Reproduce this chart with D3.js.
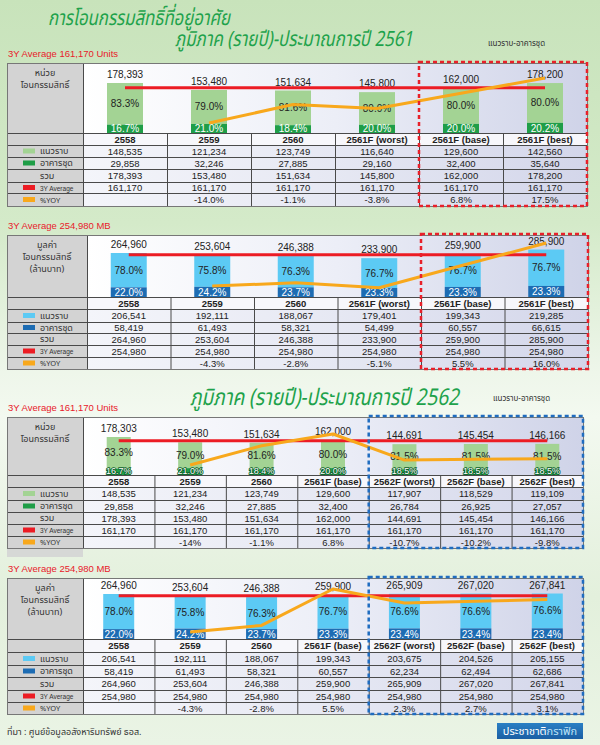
<!DOCTYPE html>
<html lang="th">
<head>
<meta charset="UTF-8">
<title>การโอนกรรมสิทธิ์ที่อยู่อาศัย ภูมิภาค</title>
<script src="https://cdn.jsdelivr.net/npm/d3@7"></script>
<style>
*{margin:0; padding:0;}
body{width:600px; height:745px; overflow:hidden;}
text{font-family:"Liberation Sans", Arial, "Noto Sans Thai", "Loma", "Garuda", sans-serif;}
.thai{font-family:"Noto Sans Thai", "Loma", "Garuda", "Tlwg Typo", "DejaVu Sans", sans-serif;}
</style>
</head>
<body>
<script>
// ---- data: 2561 units ----
var catsA = ["2558", "2559", "2560", "2561F (worst)", "2561F (base)", "2561F (best)"];
var flatA = [148535, 121234, 123749, 116640, 129600, 142560];
var condoA = [29858, 32246, 27885, 29160, 32400, 35640];
var totalA = [178393, 153480, 151634, 145800, 162000, 178200];
var barTotalA = [178393, 153480, 151634, 145800, 162000, 178200];
var avgA = 161170;
var yoyA = [null, -14.0, -1.1, -3.8, 6.8, 17.5];
var yoyLabelA = ["", "-14.0%", "-1.1%", "-3.8%", "6.8%", "17.5%"];
var flatPctA = [83.3, 79.0, 81.6, 80.0, 80.0, 80.0];
var condoPctA = [16.7, 21.0, 18.4, 20.0, 20.0, 20.2];

// ---- data: 2561 value (MB) ----
var catsB = catsA;
var flatB = [206541, 192111, 188067, 179401, 199343, 219285];
var condoB = [58419, 61493, 58321, 54499, 60557, 66615];
var totalB = [264960, 253604, 246388, 233900, 259900, 285900];
var barTotalB = totalB;
var avgB = 254980;
var yoyB = [null, -4.3, -2.8, -5.1, 5.5, 16.0];
var yoyLabelB = ["", "-4.3%", "-2.8%", "-5.1%", "5.5%", "16.0%"];
var flatPctB = [78.0, 75.8, 76.3, 76.7, 76.7, 76.7];
var condoPctB = [22.0, 24.2, 23.7, 23.3, 23.3, 23.3];

// ---- data: 2562 units ----
var catsC = ["2558", "2559", "2560", "2561F (base)", "2562F (worst)", "2562F (base)", "2562F (best)"];
var flatC = [148535, 121234, 123749, 129600, 117907, 118529, 119109];
var condoC = [29858, 32246, 27885, 32400, 26784, 26925, 27057];
var totalC = [178393, 153480, 151634, 162000, 144691, 145454, 146166];
var barTotalC = [178303, 153480, 151634, 162000, 144691, 145454, 146166];
var avgC = 161170;
var yoyC = [null, -14, -1.1, 6.8, -10.7, -10.2, -9.8];
var yoyLabelC = ["", "-14%", "-1.1%", "6.8%", "-10.7%", "-10.2%", "-9.8%"];
var flatPctC = [83.3, 79.0, 81.6, 80.0, 81.5, 81.5, 81.5];
var condoPctC = [16.7, 21.0, 18.4, 20.0, 18.5, 18.5, 18.5];

// ---- data: 2562 value (MB) ----
var catsD = catsC;
var flatD = [206541, 192111, 188067, 199343, 203675, 204526, 205155];
var condoD = [58419, 61493, 58321, 60557, 62234, 62494, 62686];
var totalD = [264960, 253604, 246388, 259900, 265909, 267020, 267841];
var barTotalD = totalD;
var avgD = 254980;
var yoyD = [null, -4.3, -2.8, 5.5, 2.3, 2.7, 3.1];
var yoyLabelD = ["", "-4.3%", "-2.8%", "5.5%", "2.3%", "2.7%", "3.1%"];
var flatPctD = [78.0, 75.8, 76.3, 76.7, 76.6, 76.6, 76.6];
var condoPctD = [22.0, 24.2, 23.7, 23.3, 23.4, 23.4, 23.4];

var W = 600, H = 745;
var fmt = d3.format(",");
var pct = d3.format(".1f");

var svg = d3.select("body").append("svg")
	.attr("width", W)
	.attr("height", H);

var defs = svg.append("defs");
function grad(id, stops, vertical){
	var g = defs.append("linearGradient").attr("id", id)
		.attr("x1", 0).attr("y1", 0)
		.attr("x2", vertical ? 0 : 1).attr("y2", vertical ? 1 : 0);
	stops.forEach(function(s){
		g.append("stop").attr("offset", s[0]).attr("stop-color", s[1]);
	});
}
grad("bg", [[0, "#c8e3bb"], [0.3, "#d4eac9"], [0.5, "#eef6ea"], [0.56, "#f3f9f0"], [0.8, "#e3f0dc"], [1, "#eaf4e5"]], true);
grad("chartBg", [[0, "#ffffff"], [0.5, "#eceef7"], [1, "#cfd3e8"]], false);
grad("cellBg", [[0, "#f4f5fa"], [0.5, "#e6e8f3"], [1, "#d3d6ea"]], false);
grad("logo", [[0, "#2a7fc4"], [1, "#1b5fa4"]], true);

svg.append("rect").attr("width", W).attr("height", H).attr("fill", "url(#bg)");

// ---- titles ----
function title(t, x, y, size, len){
	svg.append("text").attr("class", "thai")
		.attr("x", x).attr("y", y)
		.attr("font-size", size).attr("font-style", "italic")
		.attr("fill", "#1ea24b")
		.attr("textLength", len).attr("lengthAdjust", "spacingAndGlyphs")
		.text(t);
}
title("การโอนกรรมสิทธิ์ที่อยู่อาศัย", 48, 25, 21, 182);
title("ภูมิภาค (รายปี)-ประมาณการปี 2561", 175, 46, 21, 238);
title("ภูมิภาค (รายปี)-ประมาณการปี 2562", 190, 405, 23, 269);
svg.append("text").attr("class", "thai")
	.attr("x", 488).attr("y", 46)
	.attr("font-size", 8).attr("fill", "#333")
	.text("แนวราบ-อาคารชุด");
svg.append("text").attr("class", "thai")
	.attr("x", 493).attr("y", 401)
	.attr("font-size", 8).attr("fill", "#333")
	.text("แนวราบ-อาคารชุด");

function panel(p){
	var g = svg.append("g");
	var n = p.cats.length;
	var x = d3.scaleBand().domain(p.cats).range([p.x1, p.right]);
	var bwCol = x.bandwidth();
	var cx = function(i){ return x(p.cats[i]) + bwCol / 2; };
	var h = d3.scaleLinear().domain([0, p.vmax]).range([p.bottom, p.bottom - p.hmax]);
	var yy = d3.scaleLinear().domain(p.yoyDom).range(p.yoyRange);
	var last = p.rows[p.rows.length - 1];

	// caption
	g.append("text").attr("x", 8).attr("y", p.top - 6)
		.attr("font-size", 9.5).attr("fill", "#e8202a")
		.text(p.caption);

	// left gray column
	g.append("rect").attr("x", p.x0).attr("y", p.top)
		.attr("width", p.x1 - p.x0).attr("height", last - p.top)
		.attr("fill", "#d3d3d3");
	if(p.ghost){
		g.append("rect").attr("x", p.x0).attr("y", last)
			.attr("width", p.x1 - p.x0).attr("height", 9)
			.attr("fill", "#d6d8d6");
	}
	// chart area
	g.append("rect").attr("x", p.x1).attr("y", p.top)
		.attr("width", p.right - p.x1).attr("height", p.bottom - p.top)
		.attr("fill", "url(#chartBg)");
	// header row (years)
	g.append("rect").attr("x", p.x1).attr("y", p.bottom)
		.attr("width", p.right - p.x1).attr("height", p.rows[0] - p.bottom)
		.attr("fill", "#f7f7fb");
	// data rows
	for(var r = 0; r < p.rows.length - 1; r++){
		g.append("rect").attr("x", p.x1).attr("y", p.rows[r])
			.attr("width", p.right - p.x1).attr("height", p.rows[r + 1] - p.rows[r])
			.attr("fill", "url(#cellBg)");
	}

	// row header text in left column
	var hl = g.append("text").attr("class", "thai")
		.attr("text-anchor", "middle").attr("font-size", 9).attr("fill", "#333");
	p.head.forEach(function(t, i){
		hl.append("tspan").attr("x", (p.x0 + p.x1) / 2).attr("y", p.top + 13 + i * 12).text(t);
	});

	var rowNames = ["แนวราบ", "อาคารชุด", "รวม", "3Y Average", "%YOY"];
	var rowSw = [p.light, p.dark, null, "#ec1c24", "#f8a81c"];
	rowNames.forEach(function(name, i){
		var y0 = p.rows[i], y1 = p.rows[i + 1], ym = (y0 + y1) / 2;
		if(rowSw[i]){
			g.append("rect").attr("x", p.x0 + 16).attr("y", ym - 2.5)
				.attr("width", 12).attr("height", 5).attr("fill", rowSw[i]);
		}
		g.append("text").attr("class", i == 3 ? "" : "thai")
			.attr("x", p.x0 + 33).attr("y", ym + 3)
			.attr("font-size", i == 3 ? 6.5 : (i == 4 ? 7.5 : 9))
			.attr("fill", "#333")
			.text(name);
	});

	// table values
	function lab(a){ return a.map(fmt); }
	var cols = [lab(p.flat), lab(p.condo), lab(p.total),
		p.cats.map(function(){ return fmt(p.avg); }), p.yoyLabel];
	p.cats.forEach(function(c, i){
		g.append("text").attr("x", cx(i)).attr("y", (p.bottom + p.rows[0]) / 2 + 3.5)
			.attr("text-anchor", "middle").attr("font-size", 9.5)
			.attr("font-weight", "bold").attr("fill", "#222")
			.text(c);
		cols.forEach(function(col, r){
			g.append("text").attr("x", cx(i)).attr("y", (p.rows[r] + p.rows[r + 1]) / 2 + 3.5)
				.attr("text-anchor", "middle").attr("font-size", 9.5)
				.attr("fill", "#222")
				.text(col[i]);
		});
	});

	// grid lines
	var lines = g.append("g").attr("stroke", "#4a4a4a").attr("stroke-width", 1).attr("fill", "none");
	[p.bottom].concat(p.rows).forEach(function(y){
		lines.append("line").attr("x1", p.x0).attr("x2", p.right)
			.attr("y1", y + 0.5).attr("y2", y + 0.5);
	});
	p.cats.forEach(function(c, i){
		if(i == 0) return;
		lines.append("line").attr("x1", x(c) + 0.5).attr("x2", x(c) + 0.5)
			.attr("y1", p.bottom).attr("y2", last);
	});
	lines.append("line").attr("x1", p.x1 + 0.5).attr("x2", p.x1 + 0.5)
		.attr("y1", p.top).attr("y2", last);
	lines.append("rect").attr("x", p.x0 + 0.5).attr("y", p.top + 0.5)
		.attr("width", p.right - p.x0).attr("height", last - p.top)
		.attr("stroke", "#777");

	// bars
	var bw = p.barW;
	p.cats.forEach(function(c, i){
		var tot = p.barTotal[i];
		var ytop = h(tot);
		var ymid = h(tot * p.condoPct[i] / 100);
		var bx = cx(i) - bw / 2;
		g.append("rect").attr("x", bx).attr("y", ytop)
			.attr("width", bw).attr("height", ymid - ytop).attr("fill", p.light);
		g.append("rect").attr("x", bx).attr("y", ymid)
			.attr("width", bw).attr("height", p.bottom - ymid).attr("fill", p.dark);
		g.append("text").attr("x", cx(i)).attr("y", ytop - 5)
			.attr("text-anchor", "middle").attr("font-size", 10).attr("fill", "#222")
			.text(fmt(tot));
		g.append("text").attr("x", cx(i)).attr("y", (ytop + ymid) / 2 + 3.5)
			.attr("text-anchor", "middle").attr("font-size", 10).attr("fill", "#222")
			.text(pct(p.flatPct[i]) + "%");
		g.append("text").attr("x", cx(i))
			.attr("y", Math.min((ymid + p.bottom) / 2 + 4, p.bottom - 1))
			.attr("text-anchor", "middle").attr("font-size", p.outline ? 9 : 10).attr("fill", "#fff")
			.attr("stroke", p.outline ? "#0b5e2a" : "none").attr("stroke-width", p.outline ? 1.6 : 0)
			.attr("paint-order", "stroke")
			.text(pct(p.condoPct[i]) + "%");
	});

	// 3Y average line
	g.append("line").attr("x1", cx(0)).attr("x2", cx(n - 1))
		.attr("y1", h(p.avg)).attr("y2", h(p.avg))
		.attr("stroke", "#ec1c24").attr("stroke-width", 3);

	// %YOY line
	var pts = [];
	p.yoy.forEach(function(v, i){ if(v != null) pts.push([cx(i), yy(v)]); });
	g.append("path").attr("d", d3.line()(pts))
		.attr("fill", "none").attr("stroke", "#f8a81c").attr("stroke-width", 3)
		.attr("stroke-linejoin", "round");

	// forecast highlight box
	var hx = x(p.cats[p.hi]);
	g.append("rect").attr("x", hx).attr("y", p.top - 1)
		.attr("width", p.right - hx).attr("height", last - p.top + 1)
		.attr("fill", "none").attr("stroke", p.boxColor).attr("stroke-width", 2.5)
		.attr("stroke-dasharray", "4,3");
}

panel({cats: catsA, flat: flatA, condo: condoA, total: totalA, barTotal: barTotalA, avg: avgA,
	yoy: yoyA, yoyLabel: yoyLabelA, flatPct: flatPctA, condoPct: condoPctA,
	caption: "3Y Average 161,170 Units", head: ["หน่วย", "โอนกรรมสิทธิ์"],
	x0: 7, x1: 83, right: 587, top: 63, bottom: 133, rows: [145, 157, 169, 182, 193, 206],
	barW: 36, vmax: 178393, hmax: 50, yoyDom: [-14, 17.5], yoyRange: [123, 78],
	light: "#a3d394", dark: "#1f9e48", hi: 4, boxColor: "#e8202a"});

panel({cats: catsB, flat: flatB, condo: condoB, total: totalB, barTotal: barTotalB, avg: avgB,
	yoy: yoyB, yoyLabel: yoyLabelB, flatPct: flatPctB, condoPct: condoPctB,
	caption: "3Y Average 254,980 MB", head: ["มูลค่า", "โอนกรรมสิทธิ์", "(ล้านบาท)"],
	x0: 7, x1: 87, right: 588, top: 235, bottom: 297, rows: [309, 322, 333, 345, 357, 369],
	barW: 36, vmax: 264960, hmax: 44, yoyDom: [-4.3, 16], yoyRange: [286, 243],
	light: "#5ccaf4", dark: "#1d6cb3", hi: 4, boxColor: "#e8202a"});

panel({cats: catsC, flat: flatC, condo: condoC, total: totalC, barTotal: barTotalC, avg: avgC,
	yoy: yoyC, yoyLabel: yoyLabelC, flatPct: flatPctC, condoPct: condoPctC,
	caption: "3Y Average 161,170 Units", head: ["หน่วย", "โอนกรรมสิทธิ์"], ghost: true, outline: true,
	x0: 7, x1: 83, right: 583, top: 417, bottom: 475, rows: [487, 500, 512, 524, 536, 548],
	barW: 24, vmax: 178303, hmax: 38, yoyDom: [-14, 6.8], yoyRange: [465, 434],
	light: "#a3d394", dark: "#1f9e48", hi: 4, boxColor: "#1f6cc0"});

panel({cats: catsD, flat: flatD, condo: condoD, total: totalD, barTotal: barTotalD, avg: avgD,
	yoy: yoyD, yoyLabel: yoyLabelD, flatPct: flatPctD, condoPct: condoPctD,
	caption: "3Y Average 254,980 MB", head: ["มูลค่า", "โอนกรรมสิทธิ์", "(ล้านบาท)"],
	x0: 7, x1: 83, right: 583, top: 578, bottom: 639, rows: [652, 665, 677, 690, 702, 714],
	barW: 31, vmax: 264960, hmax: 45, yoyDom: [-4.3, 5.5], yoyRange: [632, 589],
	light: "#5ccaf4", dark: "#1d6cb3", hi: 4, boxColor: "#1f6cc0"});

// footer
svg.append("text").attr("class", "thai")
	.attr("x", 7).attr("y", 735).attr("font-size", 9).attr("fill", "#333")
	.text("ที่มา : ศูนย์ข้อมูลอสังหาริมทรัพย์ ธอส.");
svg.append("rect").attr("x", 497).attr("y", 723).attr("width", 86).attr("height", 16)
	.attr("fill", "url(#logo)");
var logo = svg.append("text").attr("class", "thai")
	.attr("x", 540).attr("y", 735).attr("text-anchor", "middle").attr("font-size", 11);
logo.append("tspan").attr("fill", "#fff").text("ประชาชาติ");
logo.append("tspan").attr("fill", "#bfe3f7").text("กราฟิก");
</script>
</body>
</html>
